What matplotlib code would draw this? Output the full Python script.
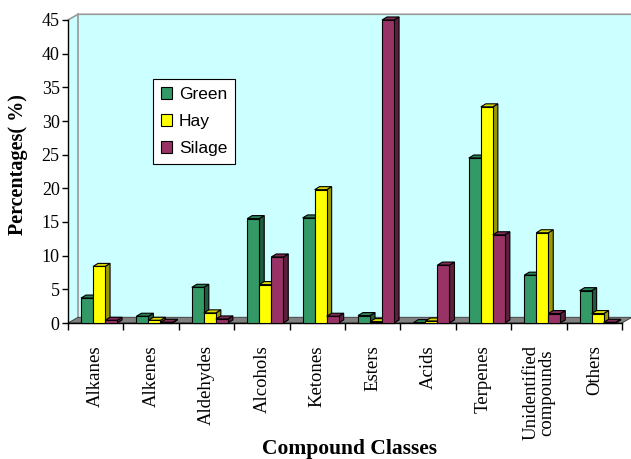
import matplotlib
matplotlib.use("Agg")
import matplotlib.pyplot as plt
from matplotlib.patches import Polygon, Patch
from matplotlib.colors import to_rgb
import numpy as np

# volatile compound classes (% of total) for the three forage types
classes = ["Alkanes", "Alkenes", "Aldehydes", "Alcohols", "Ketones", "Esters",
           "Acids", "Terpenes", "Unidentified\ncompounds", "Others"]
green = [3.7, 1.0, 5.3, 15.5, 15.6, 1.1, 0.05, 24.5, 7.1, 4.8]
hay = [8.4, 0.4, 1.5, 5.7, 19.8, 0.2, 0.3, 32.1, 13.4, 1.4]
silage = [0.4, 0.1, 0.6, 9.8, 1.0, 45.0, 8.6, 13.1, 1.4, 0.1]

series = [("Green", green, "#339966"), ("Hay", hay, "#FFFF00"), ("Silage", silage, "#993366")]

W, H = 631, 459
fig = plt.figure(figsize=(W / 100, H / 100), dpi=100)
ax = fig.add_axes([68 / W, (H - 323) / H, 554 / W, 303 / H])
ax.set_xlim(0, len(classes))
ax.set_ylim(0, 45)

# depth of the walls / floor and of each column, in data units
wdx, wdy = 0.18, 0.85
bdx, bdy = 0.09, 0.45
n = len(classes)

# side wall, back wall and floor
wall = "#CCFFFF"
ax.add_patch(Polygon([(0, 0), (0, 45), (wdx, 45 + wdy), (wdx, wdy)],
                     closed=True, fc=wall, ec="none", clip_on=False, zorder=0))
ax.add_patch(Polygon([(wdx, wdy), (wdx, 45 + wdy), (n + wdx, 45 + wdy), (n + wdx, wdy)],
                     closed=True, fc=wall, ec="none", clip_on=False, zorder=0))
ax.plot([0, wdx, n + wdx], [45, 45 + wdy, 45 + wdy], color="#999999", lw=1.2,
        clip_on=False, zorder=1)
ax.plot([wdx, wdx], [wdy, 45 + wdy], color="#999999", lw=1.2, clip_on=False, zorder=1)
ax.add_patch(Polygon([(0, 0), (n, 0), (n + wdx, wdy), (wdx, wdy)],
                     closed=True, fc="#808080", ec="#333333", lw=0.6, clip_on=False, zorder=1))

def darker(c, f):
    r, g, b = to_rgb(c)
    return (r * f, g * f, b * f)

bw = 0.217
offs = [0.235, 0.452, 0.669]
x0 = np.arange(n)
for k, (name, vals, col) in enumerate(series):
    z = 3 + k
    for i, v in enumerate(vals):
        xl = x0[i] + offs[k]
        xr = xl + bw
        ax.add_patch(Polygon([(xr, 0), (xr + bdx, bdy), (xr + bdx, v + bdy), (xr, v)],
                             closed=True, fc=darker(col, 0.6), ec="black", lw=0.8,
                             zorder=z, clip_on=False))
        ax.add_patch(Polygon([(xl, v), (xl + bdx, v + bdy), (xr + bdx, v + bdy), (xr, v)],
                             closed=True, fc=darker(col, 0.85), ec="black", lw=0.8,
                             zorder=z, clip_on=False))
    ax.bar(x0 + offs[k], vals, width=bw, align="edge", color=col, edgecolor="black",
           lw=0.8, zorder=z + 0.5, clip_on=False)

for s in ["top", "right"]:
    ax.spines[s].set_visible(False)
for s in ["left", "bottom"]:
    ax.spines[s].set_color("black")
    ax.spines[s].set_linewidth(1.0)
    ax.spines[s].set_zorder(2)

serif = "Liberation Serif"
ax.set_yticks(np.arange(0, 46, 5))
ax.tick_params(axis="y", direction="out", length=4, width=1, pad=2,
               labelsize=13, labelfontfamily=serif)
ax.set_xticks(np.arange(0, n + 1))
ax.set_xticklabels([])
ax.tick_params(axis="x", which="major", direction="out", length=5, width=1)
ax.set_xticks(x0 + 0.5, minor=True)
ax.set_xticklabels(classes, minor=True, rotation=90, fontsize=13.5,
                   family=serif, linespacing=0.9)
ax.tick_params(axis="x", which="minor", length=0, pad=16)

fig.text(18 / W, (H - 165) / H, "Percentages( %)", rotation=90, ha="center", va="center",
         fontsize=14.5, fontweight="bold", family=serif)
fig.text(350 / W, 5 / H, "Compound Classes", ha="center", va="baseline",
         fontsize=15.5, fontweight="bold", family=serif)

handles = [Patch(fc=c, ec="black", lw=0.8) for _, _, c in series]
leg = ax.legend(handles, [s[0] for s in series], loc="upper left",
                bbox_to_anchor=(153 / W, (H - 79) / H), bbox_transform=fig.transFigure,
                prop={"family": "Liberation Sans", "size": 12.5}, fancybox=False,
                framealpha=1, edgecolor="black", handlelength=0.65, handleheight=0.65,
                handletextpad=0.4, labelspacing=0.7, borderpad=0.45, borderaxespad=0)
leg.get_frame().set_linewidth(0.8)
leg.set_zorder(10)

fig.savefig("out.png", dpi=100)
